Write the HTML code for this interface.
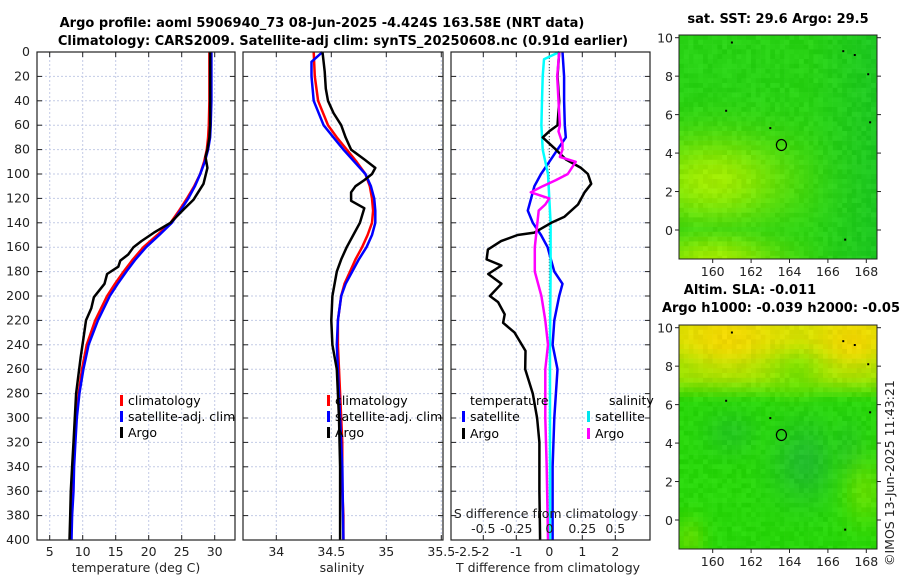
<!DOCTYPE html>
<html><head><meta charset="utf-8"><style>
html,body{margin:0;padding:0;background:#fff;}
svg{display:block;font-family:"DejaVu Sans","Liberation Sans",sans-serif;}
.tk{font-size:12.5px;fill:#222;}
.tt{font-size:13px;font-weight:bold;fill:#000;}
.lg{font-size:12.5px;fill:#000;}
</style></head><body>
<svg id="fig" width="900" height="580" viewBox="0 0 900 580" xmlns="http://www.w3.org/2000/svg">
<text class="tt" x="322" y="27" text-anchor="middle">Argo profile: aoml 5906940_73 08-Jun-2025 -4.424S 163.58E (NRT data)</text>
<text class="tt" x="343" y="45" text-anchor="middle">Climatology: CARS2009. Satellite-adj clim: synTS_20250608.nc (0.91d earlier)</text>
<text class="tt" x="778" y="23" text-anchor="middle">sat. SST: 29.6 Argo: 29.5</text>
<text class="tt" x="750" y="294" text-anchor="middle">Altim. SLA: -0.011</text>
<text class="tt" x="781" y="312" text-anchor="middle">Argo h1000: -0.039 h2000: -0.05</text>
<text class="tk" transform="translate(894,566) rotate(-90)">©IMOS 13-Jun-2025 11:43:21</text>
<g id="g"></g>
</svg>
<script>
// ---------- data ----------
const depthTicks = [0,20,40,60,80,100,120,140,160,180,200,220,240,260,280,300,320,340,360,380,400];
const tempTicks = [5,10,15,20,25,30];
const salTicks = [34,34.5,35,35.5];
const tdiffTicks = [-2.5,-2,-1,0,1,2];
const sdiffTicks = [-0.5,-0.25,0,0.25,0.5];
const sdiffTickLabels = ["-0.5","-0.25","0","0.25","0.5"];

const climDepth = [0,20,40,60,70,80,90,100,110,120,130,140,150,160,170,180,190,200,220,240,260,280,300,320,340,360,380,400];
const climTemp = [29.2,29.2,29.2,29.1,29.0,28.8,28.4,27.8,26.9,25.8,24.6,23.3,21.3,19.2,17.6,16.2,14.9,13.7,11.9,10.6,9.9,9.4,9.0,8.8,8.6,8.5,8.3,8.2];
const satTemp = [29.5,29.5,29.5,29.4,29.3,29.0,28.5,27.8,27.0,26.0,24.8,23.5,21.6,19.6,18.0,16.6,15.3,14.1,12.3,10.9,10.1,9.5,9.1,8.9,8.7,8.6,8.4,8.3];
const argoTempDepth = [0,20,40,60,70,80,86,95,108,121,129,140,148,155,160,166,171,176,182,190,201,210,220,235,250,280,300,320,340,360,380,400];
const argoTemp = [29.3,29.3,29.3,29.3,29.2,28.9,28.6,28.9,28.3,26.8,25.3,23.3,20.8,18.9,17.7,16.9,15.7,15.4,13.7,13.3,11.7,11.3,10.5,10.1,9.7,9.0,8.8,8.6,8.4,8.2,8.1,8.0];

const climSal = [34.34,34.35,34.38,34.47,34.55,34.64,34.73,34.81,34.85,34.87,34.88,34.87,34.83,34.78,34.72,34.67,34.62,34.59,34.56,34.56,34.57,34.58,34.59,34.6,34.6,34.6,34.61,34.61];
const satSalDepth = [0,8,20,40,60,70,80,90,100,110,120,130,140,150,160,170,180,190,200,220,240,260,300,340,400];
const satSal = [34.42,34.32,34.32,34.34,34.43,34.52,34.61,34.71,34.81,34.86,34.89,34.9,34.9,34.87,34.82,34.75,34.69,34.63,34.59,34.56,34.55,34.56,34.58,34.6,34.61];
const argoSalDepth = [0,16,30,40,50,60,70,80,88,95,100,105,110,115,122,128,134,140,150,160,170,180,200,220,240,260,300,340,400];
const argoSal = [34.42,34.44,34.45,34.47,34.52,34.59,34.63,34.68,34.8,34.9,34.87,34.8,34.72,34.68,34.68,34.8,34.78,34.76,34.7,34.64,34.59,34.55,34.51,34.5,34.51,34.55,34.57,34.58,34.58];

const satTdiffDepth = [0,20,40,60,70,80,90,100,110,120,130,140,150,160,170,180,190,200,220,240,260,280,300,340,400];
const satTdiff = [0.4,0.45,0.45,0.47,0.5,0.25,0.0,-0.25,-0.45,-0.55,-0.65,-0.5,-0.25,-0.05,0.05,0.15,0.4,0.3,0.15,0.1,0.25,0.2,0.15,0.1,0.1];
const satSdiffDepth = [0,6,20,40,60,80,100,140,180,240,300,400];
const satSdiff = [0.076,-0.04,-0.05,-0.055,-0.06,-0.05,-0.01,0.01,0.01,0.005,0.005,0.005];
const argoSdiffDepth = [0,20,40,60,65,75,80,86,90,100,105,110,115,120,125,130,140,160,180,200,220,240,260,300,340,400];
const argoSdiff = [0.075,0.06,0.07,0.08,0.07,0.1,0.1,0.08,0.2,0.14,0.05,-0.05,-0.14,0.0,-0.03,-0.08,-0.09,-0.11,-0.11,-0.06,-0.03,-0.01,-0.03,-0.03,-0.02,-0.01];
const argoTdiffDepth = [0,20,40,60,65,70,80,88,95,100,108,115,125,135,140,148,150,155,162,170,175,182,190,200,205,215,222,230,245,260,280,300,320,360,400];
const argoTdiff = [0.3,0.25,0.3,0.25,0.0,-0.2,0.2,0.5,0.96,1.17,1.27,1.07,0.87,0.46,0.06,-0.45,-0.96,-1.46,-1.86,-1.9,-1.45,-1.85,-1.45,-1.8,-1.55,-1.35,-1.4,-1.05,-0.72,-0.73,-0.5,-0.37,-0.3,-0.3,-0.28];

const lonTicks = [160,162,164,166,168];
const latTicks = [0,2,4,6,8,10];
const floatLon = 163.58, floatLat = 4.42;

// ---------- helpers ----------
const NS = "http://www.w3.org/2000/svg";
const G = document.getElementById('g');
function mk(tag, attrs, parent){ const e=document.createElementNS(NS,tag); for(const k in attrs) e.setAttribute(k,attrs[k]); (parent||G).appendChild(e); return e; }
const yTop=52, yBot=540;
const yD = d => yTop + (yBot-yTop)*d/400;

function panel(name, x0, x1){
  const gp = mk('g',{});
  
  
  mk('rect',{x:x0,y:yTop,width:x1-x0,height:yBot-yTop,fill:'#fff'},gp);
  return gp;
}
function grid(gp,x0,x1,xs){
  xs.forEach(x=>{ mk('line',{x1:x,x2:x,y1:yTop,y2:yBot,stroke:'#c3cbe6','stroke-width':1,'stroke-dasharray':'2,2'},gp); });
  depthTicks.forEach(d=>{ const y=yD(d); mk('line',{x1:x0,x2:x1,y1:y,y2:y,stroke:'#c3cbe6','stroke-width':1,'stroke-dasharray':'2,2'},gp);
    mk('line',{x1:x0,x2:x0+5,y1:y,y2:y,stroke:'#222'},gp); mk('line',{x1:x1-5,x2:x1,y1:y,y2:y,stroke:'#222'},gp); });
  xs.forEach(x=>{ mk('line',{x1:x,x2:x,y1:yTop,y2:yTop+5,stroke:'#222'},gp); mk('line',{x1:x,x2:x,y1:yBot-5,y2:yBot,stroke:'#222'},gp); });
}
function frame(gp,x0,x1){ mk('rect',{x:x0,y:yTop,width:x1-x0,height:yBot-yTop,fill:'none',stroke:'#222','stroke-width':1.2},gp); }
function line(gp,name,xs,ds,xf,color,w){
  const p = xs.map((v,i)=>(i?'L':'M')+xf(v).toFixed(1)+','+yD(ds[i]).toFixed(1)).join('');
  const e = mk('path',{d:p,fill:'none',stroke:color,'stroke-width':w,'stroke-linejoin':'round'},gp);
  
  
}
function legendItem(gp,name,x,y,color,label){
  const g2 = mk('g',{},gp);
  
  
  mk('rect',{x:x,y:y-10,width:3,height:11,fill:color},g2);
  const t=mk('text',{x:x+8,y:y,class:'lg'},g2); t.textContent=label;
}
function txt(gp,x,y,s,anchor,cls){ const t=mk('text',{x:x,y:y,class:cls||'tk','text-anchor':anchor||'middle'},gp); t.textContent=s; return t; }

// ---------- panel 1: temperature ----------
{
  const x0=37,x1=235, xT=t=>49.7+(t-5)*6.6;
  const gp=panel('temperature-panel',x0,x1);
  grid(gp,x0,x1,tempTicks.map(xT));
  line(gp,'climatology-temp-line',climTemp,climDepth,xT,'#ff0000',2.5);
  line(gp,'satellite-temp-line',satTemp,climDepth,xT,'#0000ff',2.5);
  line(gp,'argo-temp-line',argoTemp,argoTempDepth,xT,'#000',2.5);
  frame(gp,x0,x1);
  depthTicks.forEach(d=>txt(gp,30,yD(d)+4,String(d),'end'));
  tempTicks.forEach(t=>txt(gp,xT(t),556,String(t)));
  txt(gp,136,572,'temperature (deg C)');
  legendItem(gp,'legend-climatology',120,405,'#ff0000','climatology');
  legendItem(gp,'legend-satellite-adj-clim',120,421,'#0000ff','satellite-adj. clim');
  legendItem(gp,'legend-argo',120,437,'#000','Argo');
}
// ---------- panel 2: salinity ----------
{
  const x0=243,x1=443, xS=s=>276.3+(s-34)*110;
  const gp=panel('salinity-panel',x0,x1);
  grid(gp,x0,x1,salTicks.map(xS));
  line(gp,'climatology-sal-line',climSal,climDepth,xS,'#ff0000',2.5);
  line(gp,'satellite-sal-line',satSal,satSalDepth,xS,'#0000ff',2.5);
  line(gp,'argo-sal-line',argoSal,argoSalDepth,xS,'#000',2.5);
  frame(gp,x0,x1);
  salTicks.forEach(s=>txt(gp,xS(s),556,String(s)));
  txt(gp,342,572,'salinity');
  legendItem(gp,'legend-climatology-2',327,405,'#ff0000','climatology');
  legendItem(gp,'legend-satellite-adj-clim-2',327,421,'#0000ff','satellite-adj. clim');
  legendItem(gp,'legend-argo-2',327,437,'#000','Argo');
}
// ---------- panel 3: differences ----------
{
  const x0=451,x1=650, xT=t=>549.3+t*33, xS=s=>549.3+s*132;
  const gp=panel('difference-panel',x0,x1);
  grid(gp,x0,x1,tdiffTicks.filter(t=>t>-2.5).map(xT));
  mk('line',{x1:xT(0),x2:xT(0),y1:yTop,y2:yBot,stroke:'#444','stroke-width':1,'stroke-dasharray':'1,2'},gp);
  line(gp,'satellite-tdiff-line',satTdiff,satTdiffDepth,xT,'#0000ff',2.5);
  line(gp,'satellite-sdiff-line',satSdiff,satSdiffDepth,xS,'#00ffff',2.5);
  line(gp,'argo-tdiff-line',argoTdiff,argoTdiffDepth,xT,'#000',2.5);
  line(gp,'argo-sdiff-line',argoSdiff,argoSdiffDepth,xS,'#ff00ff',2.5);
  frame(gp,x0,x1);
  tdiffTicks.forEach(t=>txt(gp,xT(t),556,String(t)));
  txt(gp,548,572,'T difference from climatology');
  txt(gp,546,518,'S difference from climatology');
  sdiffTicks.forEach((s,i)=>txt(gp,xS(s),533,sdiffTickLabels[i]));
  txt(gp,470,405,'temperature','start','lg');
  txt(gp,609,405,'salinity','start','lg');
  legendItem(gp,'legend-t-satellite',462,421,'#0000ff','satellite');
  legendItem(gp,'legend-t-argo',462,438,'#000','Argo');
  legendItem(gp,'legend-s-satellite',587,421,'#00e5ee','satellite');
  legendItem(gp,'legend-s-argo',587,438,'#ff00ff','Argo');
}
// ---------- maps ----------
function hash(i,j){ let h=(i*374761393+j*668265263)^0x5bd1e995; h=(h^(h>>>13))*1274126177; return ((h^(h>>>16))>>>0)/4294967296; }
function mix(a,b,t){ return a.map((v,i)=>v+(b[i]-v)*Math.max(0,Math.min(1,t))); }
function gauss(lon,lat,cx,cy,sx,sy){ return Math.exp(-((lon-cx)**2/(2*sx*sx)+(lat-cy)**2/(2*sy*sy))); }
function sstColor(lon,lat){
  let c=[40,210,20];
  const y1 = gauss(lon,lat,160,2.6,2.8,1.6);
  const y2 = gauss(lon,lat,160,-1.6,2.5,1.0);
  c = mix(c,[160,235,0],Math.max(y1,y2));
  c = mix(c,[20,190,45],Math.max(0,(lon-165)/4)*0.6);
  return c;
}
function slaColor(lon,lat){
  let c=[40,215,10];
  c = mix(c,[150,228,0],Math.max(0,Math.min(1,(lat-6.2)/1.2)));
  c = mix(c,[225,225,0],Math.max(0,Math.min(1,(lat-8.2)/1.2))*0.8);
  c = mix(c,[240,215,0],Math.max(gauss(lon,lat,160.8,9.5,1.8,1.2),gauss(lon,lat,167.3,9.3,1.3,1.1)));
  c = mix(c,[100,225,0],gauss(lon,lat,164.3,7.3,0.8,0.8)*0.6);
  c = mix(c,[35,190,45],Math.max(gauss(lon,lat,164.8,3,1.2,1.5),gauss(lon,lat,161,4.5,1,0.8)*0.6,gauss(lon,lat,167,3.5,0.8,1.2)*0.6));
  c = mix(c,[110,225,0],gauss(lon,lat,167.9,1.5,0.8,1.2)*0.8);
  c = mix(c,[90,220,0],gauss(lon,lat,158.8,-1,0.6,0.8));
  return c;
}
function drawMap(name,yb0,yb1,lat10y,lat0y,colorFn){
  const x0=679,x1=877, lonX=l=>712.7+(l-160)*19.2, latY=a=>lat0y+(lat10y-lat0y)*a/10;
  const gp=mk('g',{});
  
  
  const cell=4.8;
  for(let j=0;yb0+j*cell<yb1;j++){
    for(let i=0;x0+i*cell<x1;i++){
      const px=x0+i*cell, py=yb0+j*cell;
      const lon=160+(px+cell/2-712.7)/19.2, lat=10*(lat0y-(py+cell/2))/(lat0y-lat10y);
      let c=colorFn(lon,lat); const n=(hash(i,j)-0.5)*14; c=c.map(v=>Math.round(Math.max(0,Math.min(255,v+n))));
      mk('rect',{x:px.toFixed(1),y:py.toFixed(1),width:(Math.min(cell,x1-px)+0.3).toFixed(1),height:(Math.min(cell,yb1-py)+0.3).toFixed(1),fill:`rgb(${c[0]},${c[1]},${c[2]})`},gp);
    }
  }
  mk('rect',{x:x0,y:yb0,width:x1-x0,height:yb1-yb0,fill:'none',stroke:'#222','stroke-width':1},gp);
  lonTicks.forEach(l=>{ const x=lonX(l); mk('line',{x1:x,x2:x,y1:yb1,y2:yb1+4,stroke:'#222'},gp); txt(gp,x,yb1+17,String(l)); });
  latTicks.forEach(a=>{ const y=latY(a); mk('line',{x1:x0-4,x2:x0,y1:y,y2:y,stroke:'#222'},gp); mk('line',{x1:x1,x2:x1+4,y1:y,y2:y,stroke:'#222'},gp); txt(gp,x0-6,y+5,String(a),'end'); });
  const m=mk('ellipse',{cx:lonX(floatLon),cy:latY(floatLat),rx:5,ry:5.5,fill:'none',stroke:'#000','stroke-width':1.2},gp);
  
  
  [[163,5.3],[160.7,6.2],[161,9.75],[168.2,5.6],[166.9,-0.5],[168.1,8.1],[167.4,9.1],[166.8,9.3]].forEach(p=>mk('rect',{x:lonX(p[0])-1,y:latY(p[1])-1,width:2,height:2,fill:'#000'},gp));
}
drawMap('sst-map',35,259,37.7,230,sstColor);
drawMap('sla-map',325,549,327.7,520,slaColor);
</script>
</body></html>
